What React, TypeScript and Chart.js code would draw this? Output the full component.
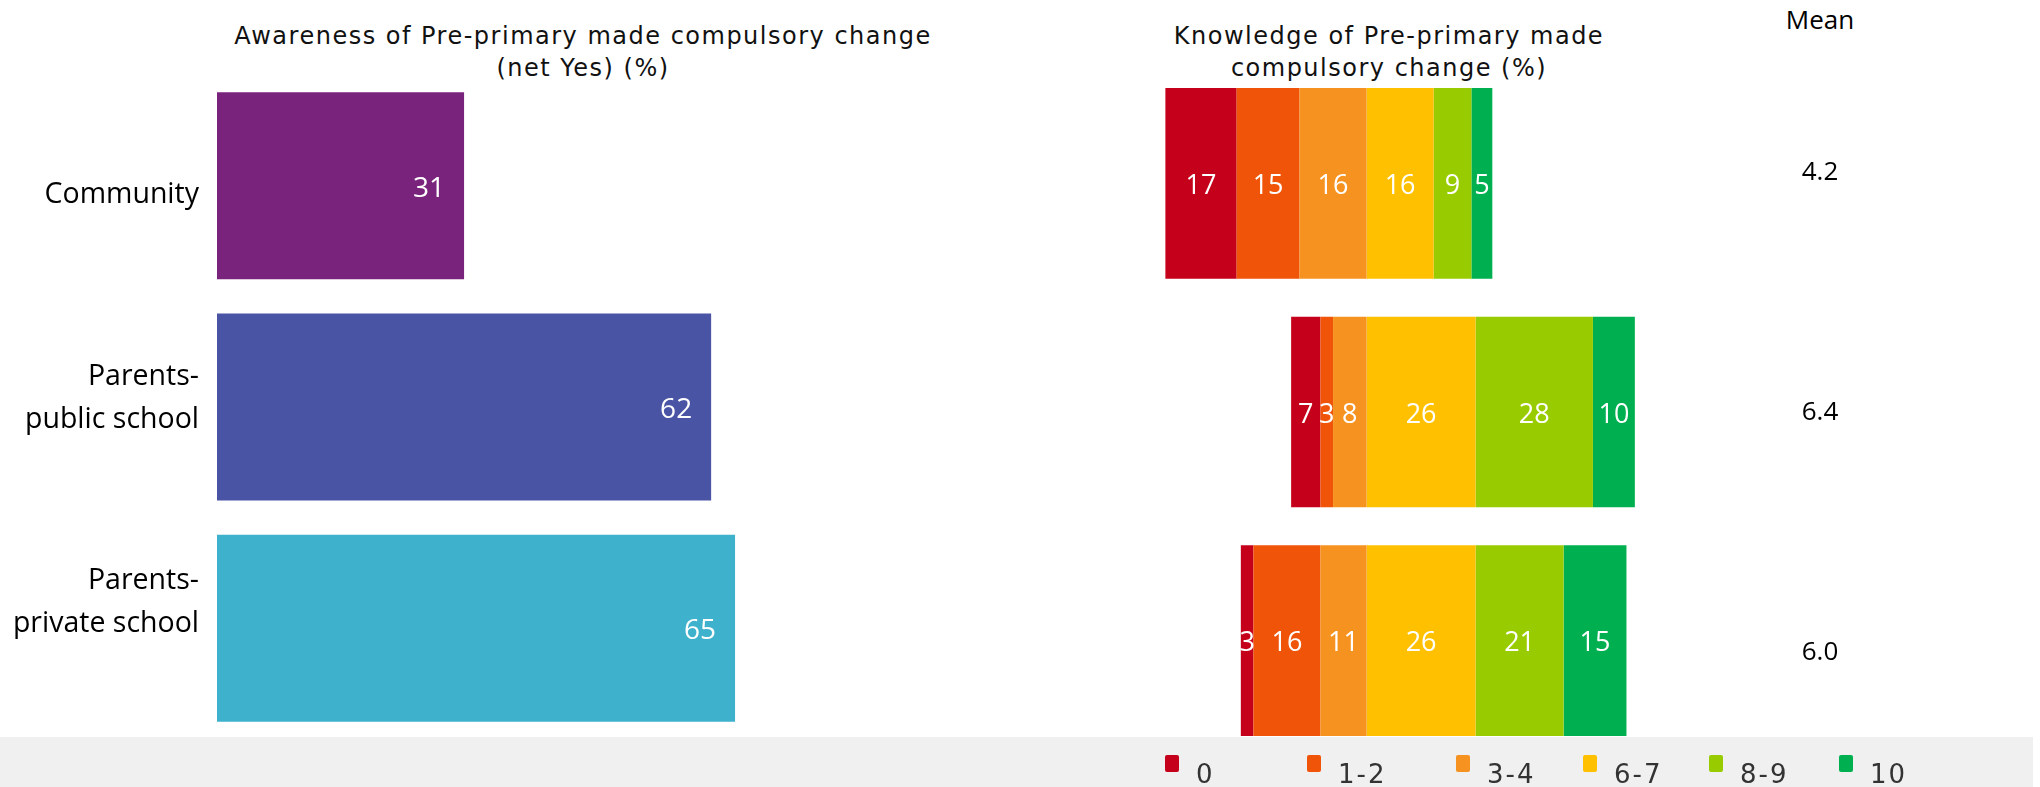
import React, { useEffect, useRef } from 'react';
import { Chart, registerables } from 'chart.js';

Chart.register(...registerables);

const FONT = "'Open Sans', 'Noto Sans', sans-serif";
const WIDE_FONT = "'DejaVu Sans', Verdana, sans-serif";

// ---------- data ----------
const groupLabelLines: string[][] = [['Community'], ['Parents-', 'public school'], ['Parents-', 'private school']];
const awarenessValues = [31, 62, 65];
const awarenessColors = ['#7A237C', '#4954A5', '#3EB1CD'];

const bandNames = ['0', '1-2', '3-4', '6-7', '8-9', '10'];
const band0 = [17, 7, 3];
const band12 = [15, 3, 16];
const band34 = [16, 8, 11];
const band67 = [16, 26, 26];
const band89 = [9, 28, 21];
const band10 = [5, 10, 15];
const bandColors = ['#C5001A', '#F05408', '#F69220', '#FFC000', '#99CC00', '#00B050'];
const bandIsNegative = [true, true, true, false, false, false];
const bandStackOrder = [3, 2, 1, 4, 5, 6];

const meanValues = [4.2, 6.4, 6.0];

const awarenessTitle = ['Awareness of Pre-primary made compulsory change', '(net Yes) (%)'];
const knowledgeTitle = ['Knowledge of Pre-primary made', 'compulsory change (%)'];
const meanTitle = 'Mean';

// ---------- layout (not data) ----------
const legendMarkerLeft = [1165, 1307, 1456, 1583, 1709, 1839];

// ---------- plugins ----------
const barLabelPlugin = {
  id: 'barLabels',
  afterDatasetsDraw(chart: any, _args: any, opts: any) {
    if (!opts || !opts.display) return;
    const ctx = chart.ctx;
    ctx.save();
    ctx.font = `${opts.size}px ${FONT}`;
    ctx.fillStyle = opts.color;
    ctx.textBaseline = 'middle';
    chart.data.datasets.forEach((ds: any, di: number) => {
      const meta = chart.getDatasetMeta(di);
      meta.data.forEach((el: any, i: number) => {
        const v = ds.data[i];
        if (v == null) return;
        const { x, base, y } = el.getProps(['x', 'base', 'y'], true);
        const text = String(Math.abs(v));
        if (opts.anchor === 'end') {
          ctx.textAlign = 'right';
          ctx.fillText(text, Math.max(x, base) - opts.offset, y + opts.dy);
        } else {
          ctx.textAlign = 'center';
          ctx.fillText(text, (x + base) / 2, y + opts.dy);
        }
      });
    });
    ctx.restore();
  },
};

const meanTextPlugin = {
  id: 'meanText',
  afterDatasetsDraw(chart: any, _args: any, opts: any) {
    if (!opts || !opts.display) return;
    const ctx = chart.ctx;
    const area = chart.chartArea;
    const yScale = chart.scales.y;
    ctx.save();
    ctx.font = `${opts.size}px ${FONT}`;
    ctx.fillStyle = opts.color;
    ctx.textAlign = 'center';
    ctx.textBaseline = 'middle';
    chart.data.datasets[0].data.forEach((v: number, i: number) => {
      ctx.fillText(v.toFixed(1), (area.left + area.right) / 2, yScale.getPixelForValue(i) + opts.dy);
    });
    ctx.restore();
  },
};

// ---------- configs ----------
function awarenessConfig(): any {
  return {
    type: 'bar',
    data: {
      labels: groupLabelLines.map((l) => l.join(' ')),
      datasets: [
        {
          data: awarenessValues,
          backgroundColor: awarenessColors,
          borderWidth: 0,
          barPercentage: 0.845,
          categoryPercentage: 1,
        },
      ],
    },
    plugins: [barLabelPlugin],
    options: {
      indexAxis: 'y',
      animation: false,
      responsive: false,
      maintainAspectRatio: false,
      layout: { padding: 0 },
      scales: {
        x: { display: false, min: 0, max: 100 },
        y: { display: false },
      },
      plugins: {
        legend: { display: false },
        tooltip: { enabled: false },
        barLabels: { display: true, anchor: 'end', offset: 19, size: 28, color: '#FFFFFF', dy: 3 },
      },
    },
  };
}

function knowledgeConfig(): any {
  const bandValues = [band0, band12, band34, band67, band89, band10];
  return {
    type: 'bar',
    data: {
      labels: groupLabelLines.map((l) => l.join(' ')),
      datasets: bandNames.map((name, i) => ({
        label: name,
        data: bandValues[i].map((v) => (bandIsNegative[i] ? -v : v)),
        backgroundColor: bandColors[i],
        borderWidth: 0,
        order: bandStackOrder[i],
        barPercentage: 0.834,
        categoryPercentage: 1,
      })),
    },
    plugins: [barLabelPlugin],
    options: {
      indexAxis: 'y',
      animation: false,
      responsive: false,
      maintainAspectRatio: false,
      layout: { padding: 0 },
      scales: {
        x: { display: false, stacked: true, min: -50, max: 70 },
        y: { display: false, stacked: true },
      },
      plugins: {
        legend: { display: false },
        tooltip: { enabled: false },
        barLabels: { display: true, anchor: 'center', size: 27, color: '#FFFFFF', dy: 3 },
      },
    },
  };
}

function categoryLabelConfig(): any {
  return {
    type: 'bar',
    data: {
      labels: groupLabelLines,
      datasets: [{ data: groupLabelLines.map(() => null) }],
    },
    options: {
      indexAxis: 'y',
      animation: false,
      responsive: false,
      maintainAspectRatio: false,
      layout: { padding: 0 },
      scales: {
        x: { display: false },
        y: {
          type: 'category',
          offset: true,
          grid: { display: false, drawTicks: false },
          border: { display: false },
          ticks: {
            color: '#000000',
            padding: 3,
            font: { family: FONT, size: 28.5, lineHeight: 1.5 },
          },
          afterFit: (s: any) => {
            s.width = 202;
            s.paddingTop = 0;
            s.paddingBottom = 0;
          },
        },
      },
      plugins: { legend: { display: false }, tooltip: { enabled: false } },
    },
  };
}

function meanConfig(): any {
  return {
    type: 'bar',
    data: {
      labels: groupLabelLines.map((l) => l.join(' ')),
      datasets: [{ data: meanValues, backgroundColor: 'rgba(0,0,0,0)', borderWidth: 0 }],
    },
    plugins: [meanTextPlugin],
    options: {
      indexAxis: 'y',
      animation: false,
      responsive: false,
      maintainAspectRatio: false,
      layout: { padding: 0 },
      scales: {
        x: { display: false, min: 0, max: 10 },
        y: { display: false },
      },
      plugins: {
        legend: { display: false },
        tooltip: { enabled: false },
        meanText: { display: true, size: 26, color: '#000000', dy: 2 },
      },
    },
  };
}

function ChartBox(props: { left: number; top: number; width: number; height: number; make: () => any }) {
  const ref = useRef<HTMLCanvasElement>(null);
  useEffect(() => {
    const chart = new Chart(ref.current as HTMLCanvasElement, props.make());
    return () => chart.destroy();
  }, []);
  return (
    <canvas
      ref={ref}
      width={props.width}
      height={props.height}
      style={{ position: 'absolute', left: props.left, top: props.top, width: props.width, height: props.height }}
    />
  );
}

const textStyle: React.CSSProperties = {
  position: 'absolute',
  fontFamily: FONT,
  fontSize: 26,
  lineHeight: '32px',
  color: '#000',
  textAlign: 'center',
  whiteSpace: 'nowrap',
};

const titleStyle: React.CSSProperties = {
  ...textStyle,
  fontFamily: WIDE_FONT,
  fontSize: 24,
  letterSpacing: '1.5px',
  color: '#111',
};

export default function App() {
  return (
    <div
      style={{
        position: 'fixed',
        left: 0,
        top: 0,
        width: 2040,
        height: 787,
        background: '#FFFFFF',
        overflow: 'hidden',
      }}
    >
      {/* legend band */}
      <div style={{ position: 'absolute', left: 0, top: 737, width: 2033, height: 50, background: '#F0F0F0' }} />

      <div style={{ ...titleStyle, left: 0, top: 20, width: 1166 }}>
        {awarenessTitle.map((t, i) => (
          <div key={i}>{t}</div>
        ))}
      </div>
      <div style={{ ...titleStyle, left: 1089, top: 20, width: 600 }}>
        {knowledgeTitle.map((t, i) => (
          <div key={i}>{t}</div>
        ))}
      </div>
      <div style={{ ...textStyle, left: 1720, top: 3, width: 200 }}>{meanTitle}</div>

      <ChartBox left={0} top={93} width={240} height={611} make={categoryLabelConfig} />
      <ChartBox left={217} top={75} width={797} height={664} make={awarenessConfig} />
      <ChartBox left={1157} top={69} width={503} height={686} make={knowledgeConfig} />
      <ChartBox left={1720} top={51} width={200} height={720} make={meanConfig} />

      {bandNames.map((name, i) => (
        <React.Fragment key={name}>
          <div
            style={{
              position: 'absolute',
              left: legendMarkerLeft[i],
              top: 755,
              width: 14,
              height: 17,
              borderRadius: 2,
              background: bandColors[i],
            }}
          />
          <div
            style={{
              ...textStyle,
              fontFamily: WIDE_FONT,
              fontSize: 26,
              letterSpacing: '2px',
              textAlign: 'left',
              left: legendMarkerLeft[i] + 31,
              top: 758,
              color: '#333333',
            }}
          >
            {name}
          </div>
        </React.Fragment>
      ))}
    </div>
  );
}
